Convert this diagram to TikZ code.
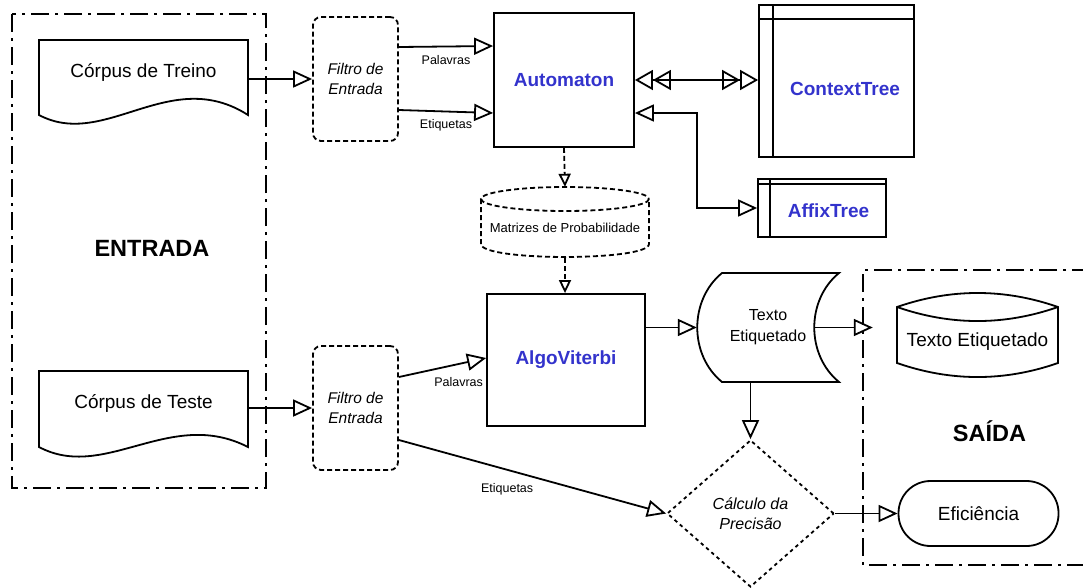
\documentclass[tikz,border=0pt]{standalone}
\usepackage{fontspec}
\setmainfont{Liberation Sans}
\usetikzlibrary{arrows.meta,shapes.geometric,calc}
\definecolor{tblue}{RGB}{51,51,204}
\begin{document}
\begin{tikzpicture}[x=1pt,y=-1pt,
  ln/.style={line width=1.8pt},
  box/.style={draw,line width=1.8pt,inner sep=0pt},
  txt/.style={inner sep=0pt,font=\fontsize{19pt}{23pt}\selectfont},
  bluet/.style={inner sep=0pt,font=\bfseries\fontsize{19pt}{23pt}\selectfont,text=tblue},
  grouplbl/.style={inner sep=0pt,font=\bfseries\fontsize{23.5pt}{28pt}\selectfont},
  group/.style={line width=1.3pt,dash pattern=on 18pt off 6pt on 3pt off 6pt},
  filt/.style={draw,line width=1.8pt,dash pattern=on 5pt off 3pt,rounded corners=8pt,
    minimum width=85pt,minimum height=124pt,inner sep=0pt,align=center,
    font=\itshape\fontsize{15.5pt}{20pt}\selectfont},
  lbl/.style={inner sep=0pt,font=\fontsize{12.5pt}{15pt}\selectfont},
  arr/.style={line width=1.8pt,-{Triangle[open,length=19pt,width=17pt]}},
  arr2/.style={line width=1.8pt,{Triangle[open,length=19pt,width=17pt]}-{Triangle[open,length=19pt,width=17pt]}},
  darr/.style={line width=1.8pt,{Triangle[open,length=18pt,width=20pt,sep=0pt]Triangle[open,length=18pt,width=20pt,sep=0pt]}-{Triangle[open,length=18pt,width=20pt,sep=0pt]Triangle[open,length=18pt,width=20pt,sep=0pt]}},
  sarr/.style={line width=1.8pt,dash pattern=on 5pt off 3pt,-{Triangle[open,length=13pt,width=12pt]}},
]
\useasboundingbox (0,0) rectangle (1083,587);

% group boxes
\draw[group] (12,14) rectangle (266,488);
\draw[group] (1090,270) -- (863,270) -- (863,565) -- (1090,565);
\node[grouplbl] (entradalbl) at (152,248) {ENTRADA};
\node[grouplbl] (saidalbl) at (989.5,431) {SAÍDA};

% documents
\node[txt,minimum width=209pt] (treino) at (143.5,72) {Córpus de Treino};
\draw[ln] (39,40) -- (248,40) -- (248,115) .. controls (170,65) and (105,150) .. (39,115) -- cycle;
\node[txt,minimum width=209pt] (teste) at (143.5,403) {Córpus de Teste};
\draw[ln] (39,371) -- (248,371) -- (248,447) .. controls (170,407) and (105,482) .. (39,447) -- cycle;

% filters
\node[filt] (filt1) at (355.5,79) {Filtro de\\Entrada};
\node[filt] (filt2) at (355.5,408) {Filtro de\\Entrada};

% automaton and trees
\node[box,bluet,draw=black,minimum width=140pt,minimum height=134pt] (auto) at (564,80) {Automaton};
\node[box,minimum width=155pt,minimum height=152pt] (ctree) at (836.5,81) {};
\draw[ln] ([xshift=15pt]ctree.north west) -- ([xshift=15pt]ctree.south west);
\draw[ln] ([yshift=-15pt]ctree.north west) -- ([yshift=-15pt]ctree.north east);
\node[bluet] (ctreelbl) at ([xshift=8.5pt,yshift=-8pt]ctree.center) {ContextTree};
\node[box,minimum width=128pt,minimum height=58pt] (affix) at (822,208) {};
\draw[ln] ([xshift=13pt]affix.north west) -- ([xshift=13pt]affix.south west);
\draw[ln] ([yshift=-6pt]affix.north west) -- ([yshift=-6pt]affix.north east);
\node[bluet] (affixlbl) at ([xshift=6.5pt,yshift=-3pt]affix.center) {AffixTree};

% probability matrices (dashed cylinder)
\node[inner sep=0pt,minimum width=168pt,minimum height=82pt,font=\fontsize{13pt}{16pt}\selectfont] (mat) at (565,228) {Matrizes de Probabilidade};
\draw[ln,dash pattern=on 5pt off 3pt] (565,199) ellipse [x radius=84, y radius=12];
\draw[ln,dash pattern=on 5pt off 3pt] (481,199) -- (481,244) .. controls (481,261.3) and (649,261.3) .. (649,244) -- (649,199);

% viterbi
\node[box,bluet,draw=black,minimum width=158pt,minimum height=132pt] (algo) at (566,360) {AlgoViterbi};

% tape
\node[inner sep=0pt,minimum width=142pt,minimum height=109pt,align=center,font=\fontsize{16pt}{21pt}\selectfont] (tape) at (768,327.5) {Texto\\Etiquetado};
\draw[ln] (722,273) -- (839,273) .. controls (806,300) and (806,355) .. (839,382) -- (722,382) .. controls (689,355) and (689,300) .. (722,273) -- cycle;

% stored output
\node[txt,minimum width=161pt] (outtxt) at (977.5,342) {Texto Etiquetado};
\draw[ln] (897,307) -- (897,363) .. controls (950.7,381.7) and (1004.3,381.7) .. (1058,363) -- (1058,307) .. controls (1004.3,288.3) and (950.7,288.3) .. (897,307) -- cycle;
\draw[ln] (897,307) .. controls (950.7,325.7) and (1004.3,325.7) .. (1058,307);

% decision
\node[diamond,draw,line width=1.8pt,dash pattern=on 3.5pt off 3.5pt,minimum width=167pt,minimum height=147pt,inner sep=0pt,align=center,font=\itshape\fontsize{16pt}{20pt}\selectfont] (prec) at (750.5,513.5) {Cálculo da\\Precisão};

% terminator
\node[box,txt,draw,rounded corners=32pt,minimum width=160pt,minimum height=65pt] (efic) at (978.5,513.5) {Eficiência};

% connectors
\draw[arr] (treino.east |- filt1.west) -- (filt1.west);
\draw[arr] (teste.east |- filt2.west) -- (filt2.west);
\draw[arr] ([yshift=32pt]filt1.east) -- node[lbl,yshift=-13.5pt] (lpal1) {Palavras} ([yshift=34pt]auto.west);
\draw[arr] ([yshift=-31pt]filt1.east) -- node[lbl,yshift=-13.5pt] (leti1) {Etiquetas} ([yshift=-33pt]auto.west);
\draw[darr] (auto.east) -- (auto.east -| ctree.west);
\draw[arr2] ([yshift=-33pt]auto.east) -- ++(62,0) |- (affix.west);
\draw[sarr] (auto.south) -- (mat.north);
\draw[sarr] ([yshift=11pt]mat.south) -- (mat.south |- algo.north);
\draw[arr] ([yshift=31pt]filt2.east) -- node[lbl,pos=0.685,yshift=-18pt] (lpal2) {Palavras} ([yshift=2pt]algo.west);
\draw[arr] ([yshift=-32pt]filt2.east) -- node[lbl,pos=0.405,yshift=-19.5pt] (leti2) {Etiquetas} (prec.west);
\draw[arr] (tape.west -| algo.east) -- (tape.west);
\draw[arr] ([xshift=-24pt]tape.east) -- ([xshift=-24pt]tape.east -| outtxt.west);
\draw[arr] (tape.south -| prec.north) -- (prec.north);
\draw[arr] (prec.east) -- (efic.west);
\end{tikzpicture}
\end{document}
